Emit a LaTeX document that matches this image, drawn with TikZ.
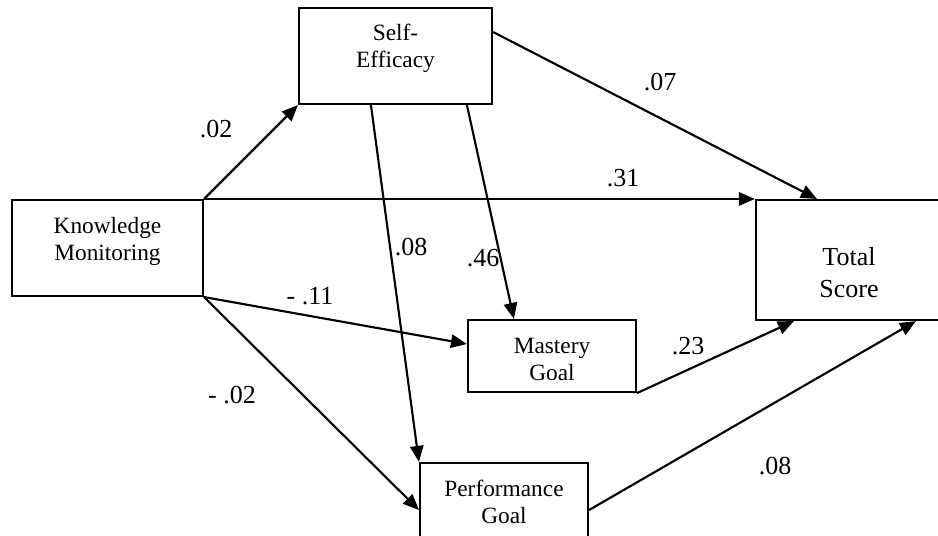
\documentclass[tikz,border=0pt]{standalone}
\usepackage{fontspec}
\setmainfont{Liberation Serif}
\usetikzlibrary{arrows.meta,calc}

\begin{document}
\begin{tikzpicture}[x=0.75pt, y=-0.75pt, line width=1.6pt,
    >={Triangle[length=12pt,width=10pt]},
    block/.style={draw, align=center, inner sep=0pt, text depth=0pt, font=\fontsize{17.5}{20.25}\selectfont},
    coef/.style={font=\fontsize{19.5}{23}\selectfont}]
    \useasboundingbox (0,0) rectangle (938,535);

    % Variablen
    \node[block, minimum width=191*0.75pt, minimum height=96*0.75pt, text height=18pt] (km) at (107.5, 248) {Knowledge\\Monitoring};
    \node[block, minimum width=193*0.75pt, minimum height=96*0.75pt, text height=18pt] (se) at (395.5, 56) {Self-\\Efficacy};
    \node[block, minimum width=186*0.75pt, minimum height=120*0.75pt, text height=55.5pt,
          font=\fontsize{19.5}{24}\selectfont] (ts) at (849, 260) {Total\\Score};
    \node[block, minimum width=168*0.75pt, minimum height=72*0.75pt, text height=36pt] (mg) at (552, 356) {Mastery\\Goal};
    \node[block, minimum width=168*0.75pt, minimum height=94*0.75pt, text height=19.5pt] (pg) at (504, 510) {Performance\\Goal};

    % Pfade
    \draw[->] (km.north east) -- (se.south west);
    \draw[->] (km.north east) -- (ts.north west);
    \draw[->] (km.south east) -- ($(mg.west)+(0,-12)$);
    \draw[->] (km.south east) -- (pg.west);
    \draw[->] ($(se.south west)+(73,0)$) -- (pg.north west);
    \draw[->] ($(se.south west)+(169,0)$) -- ($(mg.north west)+(47,0)$);
    \draw[->] ($(se.east)+(0,-24)$) -- ($(ts.north west)+(62,0)$);
    \draw[->] (mg.south east) -- ($(ts.south west)+(39,0)$);
    \draw[->] (pg.east) -- ($(ts.south west)+(161,0)$);

    % Koeffizienten
    \node[coef] (c1) at (216, 129) {.02};
    \node[coef] (c2) at (660, 82) {.07};
    \node[coef] (c3) at (623, 178) {.31};
    \node[coef] (c4) at (411, 247) {.08};
    \node[coef] (c5) at (483, 258) {.46};
    \node[coef] (c6) at (310, 296) {- .11};
    \node[coef] (c7) at (688, 346) {.23};
    \node[coef] (c8) at (232, 395) {- .02};
    \node[coef] (c9) at (775, 466) {.08};

\end{tikzpicture}
\end{document}
